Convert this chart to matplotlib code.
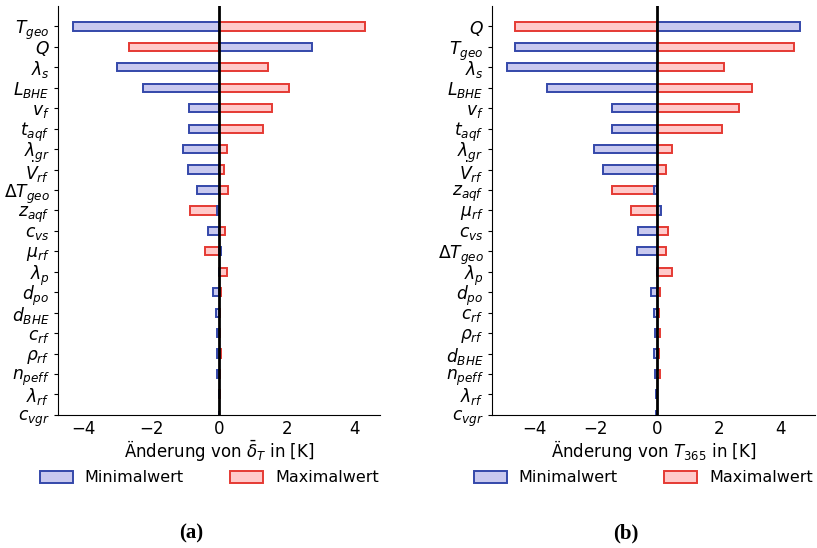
import numpy as np
import matplotlib.pyplot as plt

# panel (a): change of mean delta_T
labels_a = [r'$T_{geo}$', r'$Q$', r'$\lambda_s$', r'$L_{BHE}$', r'$v_f$', r'$t_{aqf}$',
            r'$\lambda_{gr}$', r'$\dot{V}_{rf}$', r'$\Delta T_{geo}$', r'$z_{aqf}$', r'$c_{vs}$',
            r'$\mu_{rf}$', r'$\lambda_p$', r'$d_{po}$', r'$d_{BHE}$', r'$c_{rf}$', r'$\rho_{rf}$',
            r'$n_{peff}$', r'$\lambda_{rf}$', r'$c_{vgr}$']
min_a = [-4.30, 2.74, -2.99, -2.23, -0.87, -0.87, -1.05, -0.90, -0.66, -0.07, -0.31,
         0.06, -0.01, -0.17, -0.09, -0.07, -0.05, -0.05, 0.0, 0.0]
max_a = [4.31, -2.64, 1.45, 2.07, 1.55, 1.29, 0.24, 0.14, 0.27, -0.85, 0.18,
         -0.41, 0.23, 0.06, 0.04, 0.04, 0.05, 0.04, 0.03, 0.0]

# panel (b): change of T_365
labels_b = [r'$Q$', r'$T_{geo}$', r'$\lambda_s$', r'$L_{BHE}$', r'$v_f$', r'$t_{aqf}$',
            r'$\lambda_{gr}$', r'$\dot{V}_{rf}$', r'$z_{aqf}$', r'$\mu_{rf}$', r'$c_{vs}$',
            r'$\Delta T_{geo}$', r'$\lambda_p$', r'$d_{po}$', r'$c_{rf}$', r'$\rho_{rf}$',
            r'$d_{BHE}$', r'$n_{peff}$', r'$\lambda_{rf}$', r'$c_{vgr}$']
min_b = [4.66, -4.63, -4.90, -3.58, -1.49, -1.49, -2.07, -1.76, -0.10, 0.11, -0.62,
         -0.67, -0.02, -0.22, -0.11, -0.08, -0.10, -0.08, -0.03, -0.03]
max_b = [-4.65, 4.45, 2.17, 3.08, 2.65, 2.10, 0.49, 0.27, -1.47, -0.87, 0.36,
         0.28, 0.47, 0.09, 0.06, 0.09, 0.07, 0.09, -0.02, -0.02]

BLUE_FC, BLUE_EC = '#c9c9ef', '#3448aa'
RED_FC, RED_EC = '#ffcaca', '#e53a33'

fig = plt.figure(figsize=(8.17, 5.48), dpi=100)
ax_a = fig.add_axes([0.071, 0.243, 0.394, 0.746])
ax_b = fig.add_axes([0.602, 0.243, 0.396, 0.746])


def tornado(ax, labels, vmin, vmax, xlim, xlabel, leg_x):
    y = np.arange(len(labels))
    ax.barh(y, vmax, height=0.4, color=RED_FC, edgecolor=RED_EC, linewidth=1.4,
            label='Maximalwert', zorder=2)
    ax.barh(y, vmin, height=0.4, color=BLUE_FC, edgecolor=BLUE_EC, linewidth=1.4,
            label='Minimalwert', zorder=3)
    ax.axvline(0, color='k', lw=2, zorder=4)
    ax.set_yticks(y)
    ax.set_yticklabels(labels, fontsize=12.3)
    ax.set_ylim(len(labels) - 1, -1)
    ax.set_xlim(*xlim)
    ax.set_xticks([-4, -2, 0, 2, 4])
    ax.tick_params(axis='x', labelsize=12, length=0, pad=4)
    ax.tick_params(axis='y', length=3, pad=3)
    ax.spines['top'].set_visible(False)
    ax.spines['right'].set_visible(False)
    ax.set_xlabel(xlabel, fontsize=12, labelpad=0)
    h, l = ax.get_legend_handles_labels()
    fig.legend(h[::-1], l[::-1], ncol=2, frameon=False, fontsize=11.5,
               loc='center left', bbox_to_anchor=(leg_x, 1 - 478 / 548),
               borderaxespad=0, borderpad=0, handlelength=2.05,
               handletextpad=0.75, columnspacing=2.9)


tornado(ax_a, labels_a, min_a, max_a, (-4.74, 4.74),
        r'Änderung von $\bar{\delta}_T$ in [K]', 40 / 817)
tornado(ax_b, labels_b, min_b, max_b, (-5.39, 5.15),
        r'Änderung von $T_{365}$ in [K]', 474 / 817)

fig.text(0.234, 0.018, '(a)', fontsize=15, fontweight='bold', family='Liberation Serif', ha='center')
fig.text(0.766, 0.018, '(b)', fontsize=15, fontweight='bold', family='Liberation Serif', ha='center')

fig.savefig('out.png', dpi=100)
